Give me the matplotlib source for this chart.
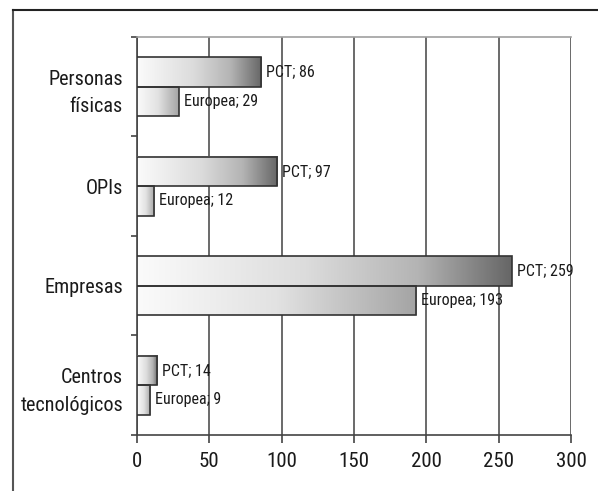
import os
import numpy as np
import matplotlib
matplotlib.use("Agg")
import matplotlib.pyplot as plt
from matplotlib import font_manager as fm
from matplotlib.colors import LinearSegmentedColormap
from matplotlib.lines import Line2D

categories = ["Personas\nfísicas", "OPIs", "Empresas", "Centros\ntecnológicos"]
series_names = ["PCT", "Europea"]
pct_values = [86, 97, 259, 14]
europea_values = [29, 12, 193, 9]
x_ticks = [0, 50, 100, 150, 200, 250, 300]


def narrow_font_file():
    """Find a condensed sans-serif face among the installed fonts."""
    files = [f.fname for f in fm.fontManager.ttflist]
    prefs = ["liberationsansnarrow-regular", "arialnarrow", "arial narrow",
             "robotocondensed-regular", "roboto_condensed-regular",
             "notosans-condensed.", "dejavusanscondensed."]
    for p in prefs:
        for f in files:
            if p in os.path.basename(f).lower():
                return f
    for f in files:
        b = os.path.basename(f).lower()
        if ("condensed" in b or "narrow" in b) and not any(
                k in b for k in ("bold", "italic", "oblique", "light", "thin",
                                 "black", "medium", "semi", "extra", "mono", "serif")):
            return f
    return None


font_file = narrow_font_file()


def fp(size):
    if font_file:
        return fm.FontProperties(fname=font_file, size=size)
    return fm.FontProperties(family=["Liberation Sans", "DejaVu Sans"], size=size)


cmap_pct = LinearSegmentedColormap.from_list(
    "pct", [(0.0, "#fbfbfb"), (0.45, "#dcdcdc"), (0.75, "#b4b4b4"), (1.0, "#666666")])
cmap_eur = LinearSegmentedColormap.from_list(
    "eur", [(0.0, "#fbfbfb"), (0.5, "#e2e2e2"), (1.0, "#a4a4a4")])

fig = plt.figure(figsize=(5.98, 4.91), dpi=100)
ax = fig.add_axes([0.229, 0.114, 0.726, 0.811])

# outer frame (open at right and bottom)
fx, fy = 13 / 598, 1 - 10 / 491
fig.add_artist(Line2D([fx, fx], [0, fy], transform=fig.transFigure, color="#555555", lw=1.5))
fig.add_artist(Line2D([fx, 1.0], [fy, fy], transform=fig.transFigure, color="#222222", lw=1.5))

n = len(categories)
y = np.arange(n)
h = 0.295
grad = np.linspace(0, 1, 256).reshape(1, -1)

for vals, name, cmap, off in [(pct_values, series_names[0], cmap_pct, -h / 2),
                              (europea_values, series_names[1], cmap_eur, h / 2)]:
    bars = ax.barh(y + off, vals, height=h, facecolor="none",
                   edgecolor="#333333", linewidth=1.2, zorder=4)
    for b, v in zip(bars, vals):
        x0, yb = b.get_x(), b.get_y()
        ax.imshow(grad, cmap=cmap, aspect="auto", interpolation="bicubic",
                  extent=(x0, x0 + b.get_width(), yb + b.get_height(), yb), zorder=3)
        ax.annotate(f"{name}; {v}", xy=(v, yb + b.get_height() / 2),
                    xytext=(3.5, 0), textcoords="offset points",
                    ha="left", va="center", fontproperties=fp(11.5),
                    color="#1a1a1a", zorder=5)

ax.set_xlim(0, 300)
ax.set_ylim(n - 0.5, -0.5)

ax.set_xticks(x_ticks)
ax.set_xticklabels([str(t) for t in x_ticks], color="#1a1a1a")
for lab in ax.get_xticklabels():
    lab.set_fontproperties(fp(15))
ax.tick_params(axis="x", direction="out", length=6, width=1.2, color="#444444", pad=6)

# boundary ticks between categories, labels at category centres
ax.set_yticks(np.arange(n + 1) - 0.5)
ax.set_yticklabels([])
ax.tick_params(axis="y", which="major", direction="out", length=4, width=1.2, color="#444444")
ax.set_yticks(y, minor=True)
ax.set_yticklabels(categories, minor=True, color="#1a1a1a", ha="right", linespacing=1.55)
for lab in ax.get_yticklabels(minor=True):
    lab.set_fontproperties(fp(14.5))
ax.tick_params(axis="y", which="minor", length=0, pad=10)

ax.grid(axis="x", color="#505050", linewidth=1.2, zorder=1)
ax.set_axisbelow(True)

for s in ["left", "bottom"]:
    ax.spines[s].set_color("#444444")
    ax.spines[s].set_linewidth(1.2)
ax.spines["right"].set_visible(False)
ax.spines["top"].set_color("#a0a0a0")
ax.spines["top"].set_linewidth(1.2)

fig.savefig("out.png", dpi=100)
